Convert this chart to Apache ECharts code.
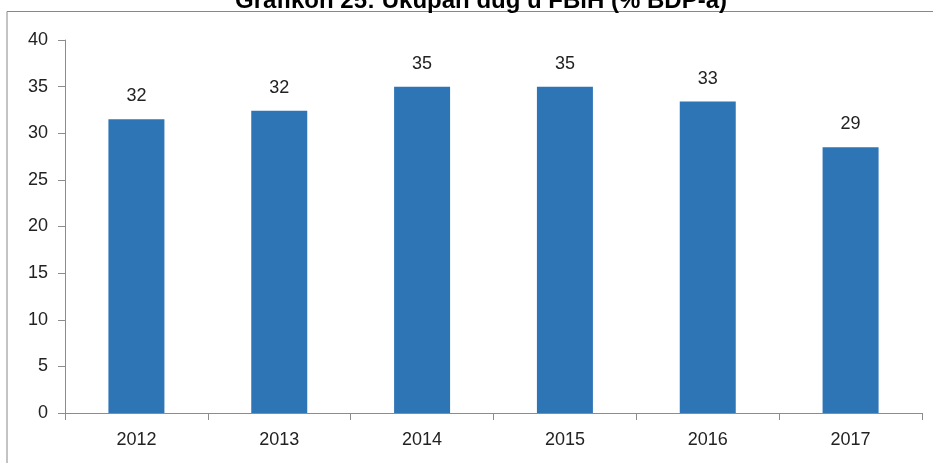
<!DOCTYPE html>
<html>
<head>
<meta charset="utf-8">
<script src="https://cdn.jsdelivr.net/npm/echarts@6/dist/echarts.min.js"></script>
<style>
  html, body { margin: 0; padding: 0; background: #fff; }
  #chart { width: 933px; height: 463px; }
</style>
</head>
<body>
<div id="chart"></div>
<script>
// Grafikon 25 - ukupan dug FBiH, % BDP-a
let years = ['2012', '2013', '2014', '2015', '2016', '2017'];
let debtShare = [31.5, 32.4, 35.0, 35.0, 33.4, 28.5];
let yTicks = [0, 40, 5]; // min, max, step

let axisGray = '#8c8c8c';

let chart = echarts.init(document.getElementById('chart'));
chart.setOption({
  animation: false,
  title: {
    text: 'Grafikon 25: Ukupan dug u FBiH (% BDP-a)',
    left: 230,
    top: -16,
    textStyle: { fontFamily: 'Liberation Sans', fontWeight: 'bold', fontSize: 24, color: '#000' }
  },
  graphic: [
    {
      type: 'polyline',
      shape: { points: [[7, 463], [7, 11.5], [933, 11.5]] },
      style: { stroke: '#888', lineWidth: 1, fill: null }
    }
  ],
  grid: { left: 65, right: 11, top: 40, bottom: 50 },
  xAxis: {
    type: 'category',
    data: years,
    axisLine: { lineStyle: { color: axisGray } },
    axisTick: { show: true, length: 7, lineStyle: { color: axisGray } },
    axisLabel: { color: '#222', fontFamily: 'Liberation Sans', fontSize: 18, margin: 18 }
  },
  yAxis: {
    type: 'value',
    min: yTicks[0],
    max: yTicks[1],
    interval: yTicks[2],
    axisLine: { show: true, lineStyle: { color: axisGray } },
    axisTick: { show: true, length: 7, lineStyle: { color: axisGray } },
    splitLine: { show: false },
    axisLabel: { color: '#222', fontFamily: 'Liberation Sans', fontSize: 18, margin: 17 }
  },
  series: [{
    type: 'bar',
    data: debtShare,
    barWidth: 56,
    itemStyle: { color: '#2e75b6' },
    label: {
      show: true,
      position: 'top',
      distance: 14,
      color: '#222',
      fontFamily: 'Liberation Sans',
      fontSize: 18,
      formatter: p => Math.round(p.value)
    }
  }]
});
</script>
</body>
</html>
